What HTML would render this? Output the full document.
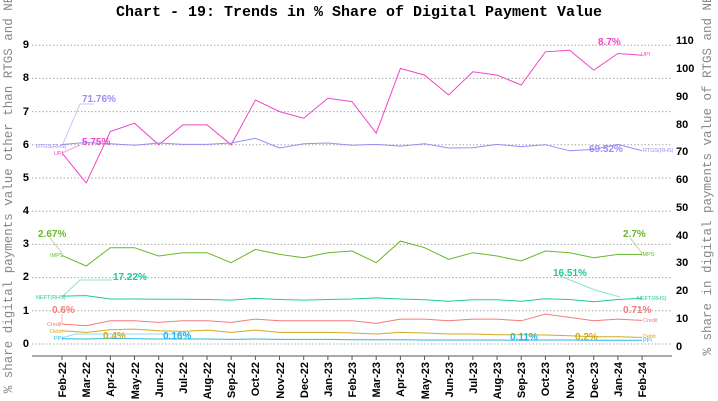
<!DOCTYPE html>
<html><head><meta charset="utf-8"><style>
html,body{margin:0;padding:0;background:#fff;}
svg{display:block;font-family:"Liberation Sans",sans-serif;}
.m{font-family:"Liberation Mono",monospace;}
</style></head><body>
<svg id="s" width="718" height="401" viewBox="0 0 718 401" xmlns="http://www.w3.org/2000/svg">
<text x="359" y="16" text-anchor="middle" class="m" font-weight="bold" font-size="15">Chart - 19: Trends in % Share of Digital Payment Value</text>
<g id="grid" stroke="#aaa" stroke-dasharray="1.5,2" stroke-width="1"></g>
<line x1="32" y1="356" x2="672" y2="356" stroke="#555" stroke-width="1"/>
<g font-weight="bold" font-size="11" text-anchor="end">
<text x="29" y="48">9</text><text x="29" y="81">8</text><text x="29" y="115">7</text><text x="29" y="148">6</text><text x="29" y="181">5</text><text x="29" y="214">4</text><text x="29" y="247">3</text><text x="29" y="280">2</text><text x="29" y="314">1</text><text x="29" y="347">0</text>
</g>
<g font-weight="bold" font-size="11" text-anchor="start">
<text x="676" y="44">110</text><text x="676" y="72">100</text><text x="676" y="100">90</text><text x="676" y="128">80</text><text x="676" y="155">70</text><text x="676" y="183">60</text><text x="676" y="211">50</text><text x="676" y="239">40</text><text x="676" y="266">30</text><text x="676" y="294">20</text><text x="676" y="322">10</text><text x="676" y="350">0</text>
</g>
<text class="m" font-size="12.5" fill="#888" transform="translate(12,187) rotate(-90)" text-anchor="middle">% share digital payments value other than RTGS and NEFT</text>
<text class="m" font-size="12.5" fill="#888" transform="translate(711,168) rotate(-90)" text-anchor="middle">% share in digital payments value of RTGS and NEFT</text>
<g id="xt" font-weight="bold" font-size="11" text-anchor="end">
<text transform="translate(66,362) rotate(-90)">Feb-22</text>
<text transform="translate(90,362) rotate(-90)">Mar-22</text>
<text transform="translate(114,362) rotate(-90)">Apr-22</text>
<text transform="translate(139,362) rotate(-90)">May-22</text>
<text transform="translate(163,362) rotate(-90)">Jun-22</text>
<text transform="translate(187,362) rotate(-90)">Jul-22</text>
<text transform="translate(211,362) rotate(-90)">Aug-22</text>
<text transform="translate(235,362) rotate(-90)">Sep-22</text>
<text transform="translate(259,362) rotate(-90)">Oct-22</text>
<text transform="translate(284,362) rotate(-90)">Nov-22</text>
<text transform="translate(308,362) rotate(-90)">Dec-22</text>
<text transform="translate(332,362) rotate(-90)">Jan-23</text>
<text transform="translate(356,362) rotate(-90)">Feb-23</text>
<text transform="translate(380,362) rotate(-90)">Mar-23</text>
<text transform="translate(404,362) rotate(-90)">Apr-23</text>
<text transform="translate(429,362) rotate(-90)">May-23</text>
<text transform="translate(453,362) rotate(-90)">Jun-23</text>
<text transform="translate(477,362) rotate(-90)">Jul-23</text>
<text transform="translate(501,362) rotate(-90)">Aug-23</text>
<text transform="translate(525,362) rotate(-90)">Sep-23</text>
<text transform="translate(549,362) rotate(-90)">Oct-23</text>
<text transform="translate(574,362) rotate(-90)">Nov-23</text>
<text transform="translate(598,362) rotate(-90)">Dec-23</text>
<text transform="translate(622,362) rotate(-90)">Jan-24</text>
<text transform="translate(646,362) rotate(-90)">Feb-24</text>
</g>
<g id="ticks" stroke="#555"></g>
<g id="lines" fill="none" stroke-width="1"></g>
<g fill="none" stroke-width="1" opacity="0.5">
<polyline points="62,146 80,104 94,104" stroke="#9b8cf5"/>
<polyline points="62,153 80,145" stroke="#f046c8"/>
<polyline points="62,253 50,238" stroke="#66b82a"/>
<polyline points="642,253 630,238" stroke="#66b82a"/>
<polyline points="62,297 80,280 112,280" stroke="#1ec99a"/>
<polyline points="620,297 595,290 560,276" stroke="#1ec99a"/>
<polyline points="62,324 62,314" stroke="#f47a7a"/>
<polyline points="62,338 75,334 190,334" stroke="#29b6e8"/>
</g>
<g font-weight="bold" font-size="10">
<text x="82" y="102" fill="#9b8cf5">71.76%</text>
<text x="82" y="145" fill="#f046c8">5.75%</text>
<text x="598" y="45" fill="#f046c8">8.7%</text>
<text x="589" y="152" fill="#9b8cf5">69.52%</text>
<text x="38" y="237" fill="#66b82a">2.67%</text>
<text x="623" y="237" fill="#66b82a">2.7%</text>
<text x="113" y="280" fill="#1ec99a">17.22%</text>
<text x="553" y="276" fill="#1ec99a">16.51%</text>
<text x="52" y="313" fill="#f47a7a">0.6%</text>
<text x="623" y="313" fill="#f47a7a">0.71%</text>
<text x="103" y="339" fill="#d4aa20">0.4%</text>
<text x="163" y="339" fill="#29b6e8">0.16%</text>
<text x="510" y="340" fill="#29b6e8">0.11%</text>
<text x="575" y="340" fill="#d4aa20">0.2%</text>
</g>
<g font-size="5.5">
<text x="36" y="148" fill="#9b8cf5">RTGS(RHS)</text>
<text x="54" y="155" fill="#f046c8">UPI</text>
<text x="50" y="257" fill="#66b82a">IMPS</text>
<text x="36" y="299" fill="#1ec99a">NEFT(RHS)</text>
<text x="47" y="326" fill="#f47a7a">Credit</text>
<text x="50" y="333" fill="#d4aa20">Debit</text>
<text x="54" y="340" fill="#29b6e8">PPI</text>
<text x="641" y="56" fill="#f046c8">UPI</text>
<text x="643" y="152" fill="#9b8cf5">RTGS(RHS)</text>
<text x="641" y="256" fill="#66b82a">IMPS</text>
<text x="637" y="300" fill="#1ec99a">NEFT(RHS)</text>
<text x="643" y="322" fill="#f47a7a">Credit</text>
<text x="643" y="338" fill="#d4aa20">Debit</text>
<text x="643" y="342" fill="#29b6e8">PPI</text>
</g>
</svg>
<script>
var NS="http://www.w3.org/2000/svg";
function X(i){return 62+24.17*i;}
function L(v){return 344-33.2*v;}
function R(v){return 344-2.78*v;}
var g=document.getElementById("grid");
for(var v=0;v<=9;v++){var l=document.createElementNS(NS,"line");l.setAttribute("x1",32);l.setAttribute("x2",672);l.setAttribute("y1",L(v));l.setAttribute("y2",L(v));g.appendChild(l);}
var t=document.getElementById("ticks");
for(var i=0;i<25;i++){var l=document.createElementNS(NS,"line");l.setAttribute("x1",X(i));l.setAttribute("x2",X(i));l.setAttribute("y1",356);l.setAttribute("y2",360);t.appendChild(l);}
var S=[
["#f046c8",L,[5.75,4.85,6.4,6.65,6.0,6.6,6.6,6.0,7.35,7.0,6.8,7.4,7.3,6.35,8.3,8.1,7.5,8.2,8.1,7.8,8.8,8.85,8.25,8.75,8.7]],
["#9b8cf5",R,[71.76,72.5,72,71.5,72.3,71.8,71.8,72.3,74,70.5,72,72.3,71.5,71.8,71.2,72,70.5,70.6,71.8,71,71.7,69.5,70,71.8,69.52]],
["#66b82a",L,[2.67,2.35,2.9,2.9,2.65,2.75,2.75,2.45,2.85,2.7,2.6,2.75,2.8,2.45,3.1,2.9,2.55,2.75,2.65,2.5,2.8,2.75,2.6,2.7,2.7]],
["#1ec99a",R,[17.22,17.4,16.2,16.2,16.1,16.1,16.0,15.8,16.4,16.0,15.8,16.0,16.2,16.6,16.2,15.9,15.4,15.9,15.9,15.4,16.3,16.0,15.2,16.0,16.51]],
["#f47a7a",L,[0.6,0.55,0.7,0.7,0.65,0.7,0.7,0.65,0.75,0.7,0.7,0.7,0.7,0.62,0.75,0.75,0.7,0.75,0.75,0.7,0.9,0.8,0.7,0.75,0.71]],
["#d4aa20",L,[0.4,0.35,0.43,0.45,0.4,0.38,0.42,0.35,0.42,0.35,0.35,0.35,0.33,0.3,0.35,0.33,0.3,0.3,0.28,0.28,0.27,0.25,0.22,0.22,0.2]],
["#29b6e8",L,[0.16,0.15,0.17,0.16,0.15,0.15,0.15,0.14,0.15,0.14,0.14,0.14,0.13,0.13,0.13,0.12,0.12,0.12,0.12,0.11,0.12,0.12,0.11,0.11,0.11]]
];
var lg=document.getElementById("lines");
S.forEach(function(s){var p=document.createElementNS(NS,"polyline");p.setAttribute("stroke",s[0]);p.setAttribute("points",s[2].map(function(v,i){return X(i).toFixed(1)+","+s[1](v).toFixed(1);}).join(" "));lg.appendChild(p);});
</script>
</body></html>
